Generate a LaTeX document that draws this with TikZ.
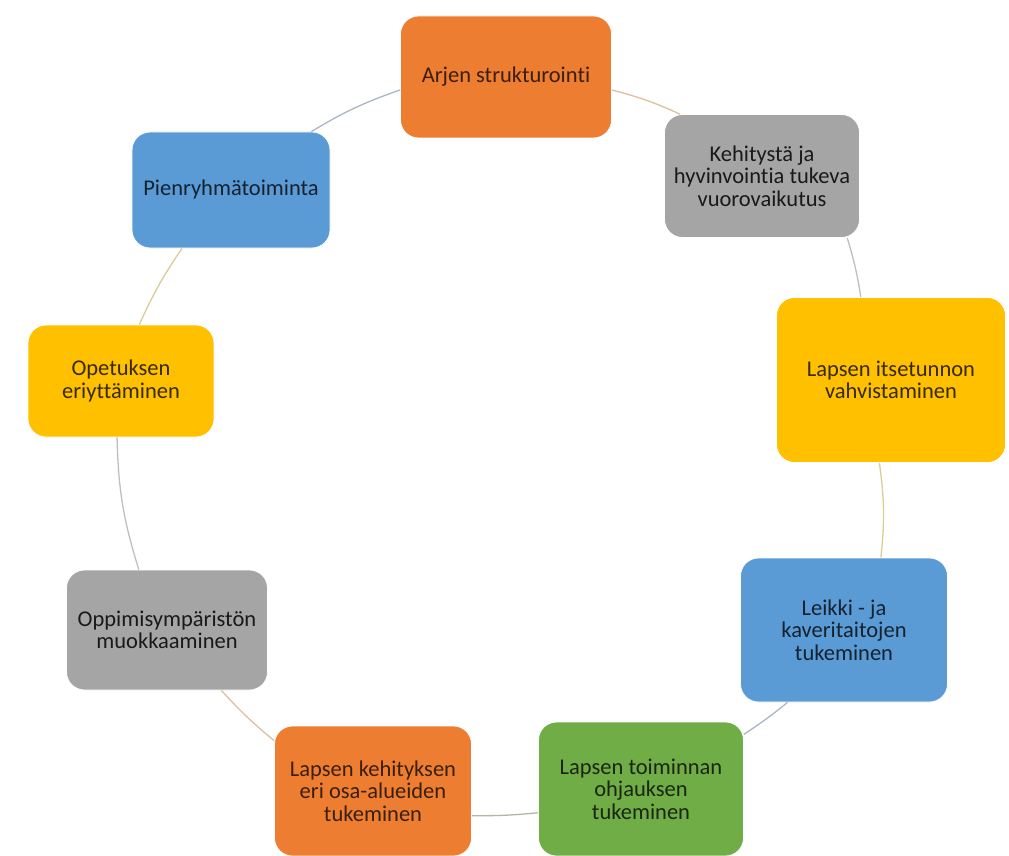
\documentclass[tikz,border=0pt]{standalone}
\usepackage{fontspec}
\setmainfont[Ligatures=NoCommon]{Carlito}
\definecolor{cOr}{HTML}{ED7D31}
\definecolor{cGy}{HTML}{A5A5A5}
\definecolor{cYe}{HTML}{FFC000}
\definecolor{cBl}{HTML}{5B9BD5}
\definecolor{cGn}{HTML}{70AD47}
\definecolor{aOr}{HTML}{DCC0A0}
\definecolor{aGy}{HTML}{BFBFBF}
\definecolor{aYe}{HTML}{D9CC98}
\definecolor{aBl}{HTML}{A8B6C6}
\definecolor{aGn}{HTML}{B0B8A6}
\tikzset{
  box/.style={rectangle, rounded corners=18pt, draw=white, line width=0.8pt,
    align=center, inner sep=0pt, font=\fontsize{22.5}{22.5}\selectfont},
  obox/.style={box, fill=cOr, text=cOr!25!black},
  gbox/.style={box, fill=cGy, text=black!90},
  ybox/.style={box, fill=cYe, text=cYe!22!black},
  bbox/.style={box, fill=cBl, text=cBl!22!black},
  nbox/.style={box, fill=cGn, text=cGn!22!black},
  conn/.style={line width=1.3pt},
}
\begin{document}
\begin{tikzpicture}[x=1pt,y=-1pt]
\useasboundingbox (0,0) rectangle (1009,856);
% nodes
\node[obox, minimum width=211pt, minimum height=122pt] (arjen) at (506,77) {Arjen strukturointi};
\node[gbox, minimum width=195pt, minimum height=123pt] (kehitys) at (762,176) {Kehitystä ja\\hyvinvointia tukeva\\vuorovaikutus};
\node[ybox, minimum width=229pt, minimum height=165pt] (itse) at (891,380) {Lapsen itsetunnon\\vahvistaminen};
\node[bbox, minimum width=207pt, minimum height=144pt] (leikki) at (844,630) {Leikki - ja\\kaveritaitojen\\tukeminen};
\node[nbox, minimum width=205pt, minimum height=134pt] (toim) at (641,789) {Lapsen toiminnan\\ohjauksen\\tukeminen};
\node[obox, minimum width=197pt, minimum height=130pt] (kehityksen) at (373,791) {Lapsen kehityksen\\eri osa-alueiden\\tukeminen};
\node[gbox, minimum width=201pt, minimum height=120pt] (opp) at (167,630) {Oppimisympäristön\\muokkaaminen};
\node[ybox, minimum width=186pt, minimum height=112pt] (ope) at (121,381) {Opetuksen\\eriyttäminen};
\node[bbox, minimum width=198pt, minimum height=116pt] (pien) at (231,190) {Pienryhmätoiminta};
% connectors
\draw[conn, aOr] (arjen.-7) to[bend left=5] (kehitys.143);
\draw[conn, aGy] (kehitys.-36) to[bend left=4] (itse.110);
\draw[conn, aYe] (itse.262) to[bend left=7] (leikki.63);
\draw[conn, aBl] (leikki.232) to[bend left=3] (toim.28);
\draw[conn, aGn] (toim.193) to[bend left=3] (kehityksen.-14);
\draw[conn, aOr] (kehityksen.153) to[bend left=4] (opp.-48);
\draw[conn, aGy] (opp.115) to[bend left=8] (ope.266);
\draw[conn, aYe] (ope.72) to[bend left=5] (pien.230);
\draw[conn, aBl] (pien.36) to[bend left=6] (arjen.187);
\end{tikzpicture}
\end{document}
